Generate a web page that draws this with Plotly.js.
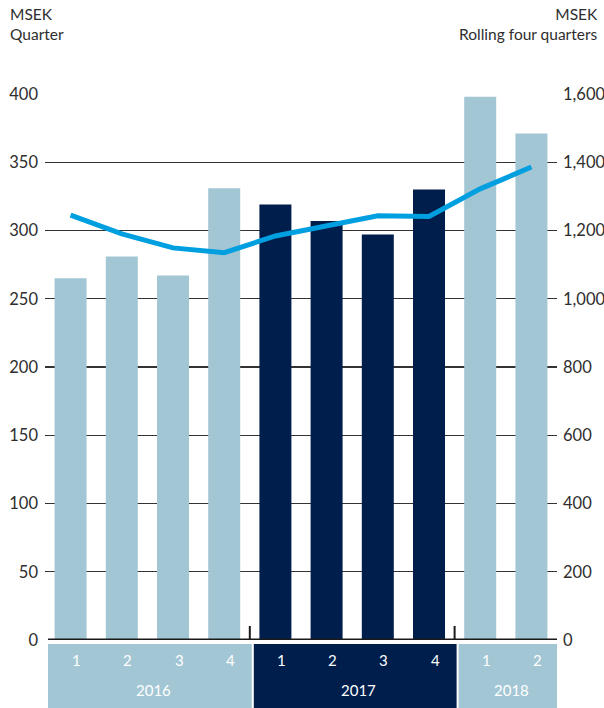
<!DOCTYPE html>
<html>
<head>
<meta charset="utf-8">
<script src="https://cdn.plot.ly/plotly-3.0.1.min.js"></script>
<style>
  html, body { margin: 0; padding: 0; background: #fff; }
  #chart { width: 604px; height: 708px; }
</style>
</head>
<body>
<div id="chart"></div>
<script>
// ---- data ----
const quarters = ['1', '2', '3', '4', '1', '2', '3', '4', '1', '2'];
const years = ['2016', '2016', '2016', '2016', '2017', '2017', '2017', '2017', '2018', '2018'];
const quarterValues = [265, 281, 267, 331, 319, 307, 297, 330, 398, 371];
const rollingValues = [1245, 1190, 1149, 1135, 1184, 1213, 1243, 1241, 1322, 1386];
const leftTicks = [0, 50, 100, 150, 200, 250, 300, 350, 400];
const rightTicks = [0, 200, 400, 600, 800, 1000, 1200, 1400, 1600];

// ---- styles ----
const LIGHT = '#a3c6d4';
const DARK = '#001e4c';
const LINE = '#009fe0';
const FONT = 'Lato, "Open Sans", sans-serif';
const TXT = '#2e2e2e';

const idx = quarters.map((_, i) => i);
const yearColor = { '2016': LIGHT, '2017': DARK, '2018': LIGHT };

// pixel helpers (plot area 512px wide, 10 categories)
const W = 512, H = 546;
const px = p => p / (W / 10); // px -> x data units
const py = p => p / H;        // px -> paper y

const traces = [
  {
    type: 'bar',
    x: idx,
    y: quarterValues,
    marker: { color: years.map(y => yearColor[y]) },
    width: 0.625,
    hoverinfo: 'y',
    yaxis: 'y'
  },
  {
    type: 'scatter',
    mode: 'lines',
    x: idx,
    y: rollingValues,
    yaxis: 'y2',
    line: { color: LINE, width: 5 },
    hoverinfo: 'y'
  }
];

// year segments of the category band
const uniqYears = [...new Set(years)];
const shapes = [];
const annotations = [];
uniqYears.forEach((yr, k) => {
  const ids = idx.filter(i => years[i] === yr);
  const first = ids[0], last = ids[ids.length - 1];
  const x0 = first - 0.5 + px(k === 0 ? 3 : 4);
  const x1 = last + 0.5 + px(k === uniqYears.length - 1 ? 4 : 2);
  shapes.push({
    type: 'rect', xref: 'x', yref: 'paper',
    x0: x0, x1: x1, y0: -py(4), y1: -py(70),
    fillcolor: yearColor[yr], line: { width: 0 }, layer: 'above'
  });
  annotations.push({
    xref: 'x', yref: 'paper', x: (first + last) / 2, y: -py(50),
    xshift: 6, text: yr, showarrow: false, yanchor: 'middle',
    font: { family: FONT, size: 15, color: '#ffffff' }
  });
  if (k > 0) {
    shapes.push({
      type: 'line', xref: 'x', yref: 'paper',
      x0: first - 0.5, x1: first - 0.5, y0: 0, y1: py(14),
      line: { color: '#1a1a1a', width: 2 }, layer: 'above'
    });
  }
});
// baseline axis line
shapes.push({
  type: 'line', xref: 'x', yref: 'y',
  x0: -0.5 + px(3), x1: 9.5 + px(3), y0: 0, y1: 0,
  line: { color: '#1a1a1a', width: 3 }, layer: 'above'
});

quarters.forEach((q, i) => {
  annotations.push({
    xref: 'x', yref: 'paper', x: i, y: -py(20),
    xshift: 6, text: q, showarrow: false, yanchor: 'middle',
    font: { family: FONT, size: 15, color: '#ffffff' }
  });
});

// header texts
annotations.push({
  xref: 'paper', yref: 'paper', x: -37 / W, y: 1 + py(91),
  xanchor: 'left', yanchor: 'top', align: 'left', showarrow: false,
  text: 'MSEK<br>Quarter', font: { family: FONT, size: 15.5, color: TXT }
});
annotations.push({
  xref: 'paper', yref: 'paper', x: 1 + 43 / W, y: 1 + py(91),
  xanchor: 'right', yanchor: 'top', align: 'right', showarrow: false,
  text: 'MSEK<br>Rolling four quarters', font: { family: FONT, size: 15.5, color: TXT }
});

const layout = {
  width: 604, height: 708,
  margin: { l: 45, r: 47, t: 94, b: 68, pad: 0 },
  paper_bgcolor: '#ffffff', plot_bgcolor: '#ffffff',
  showlegend: false,
  font: { family: FONT, size: 16, color: TXT },
  xaxis: {
    range: [-0.5, 9.5], showticklabels: false, showgrid: false,
    zeroline: false, showline: false, ticks: '', fixedrange: true
  },
  yaxis: {
    range: [0, 400], tickvals: leftTicks, showgrid: true,
    gridcolor: '#333333', gridwidth: 1.3, zeroline: false, showline: false,
    ticks: '', ticklabelstandoff: 6, tickfont: { family: FONT, size: 16.5, color: TXT },
    fixedrange: true
  },
  yaxis2: {
    range: [0, 1600], tickvals: rightTicks, tickformat: ',d', overlaying: 'y', side: 'right',
    showgrid: false, zeroline: false, showline: false, ticks: '', ticklabelstandoff: 5,
    tickfont: { family: FONT, size: 16.5, color: TXT }, fixedrange: true
  },
  shapes: shapes,
  annotations: annotations
};

Plotly.newPlot('chart', traces, layout, { displayModeBar: false, staticPlot: true });
</script>
</body>
</html>
